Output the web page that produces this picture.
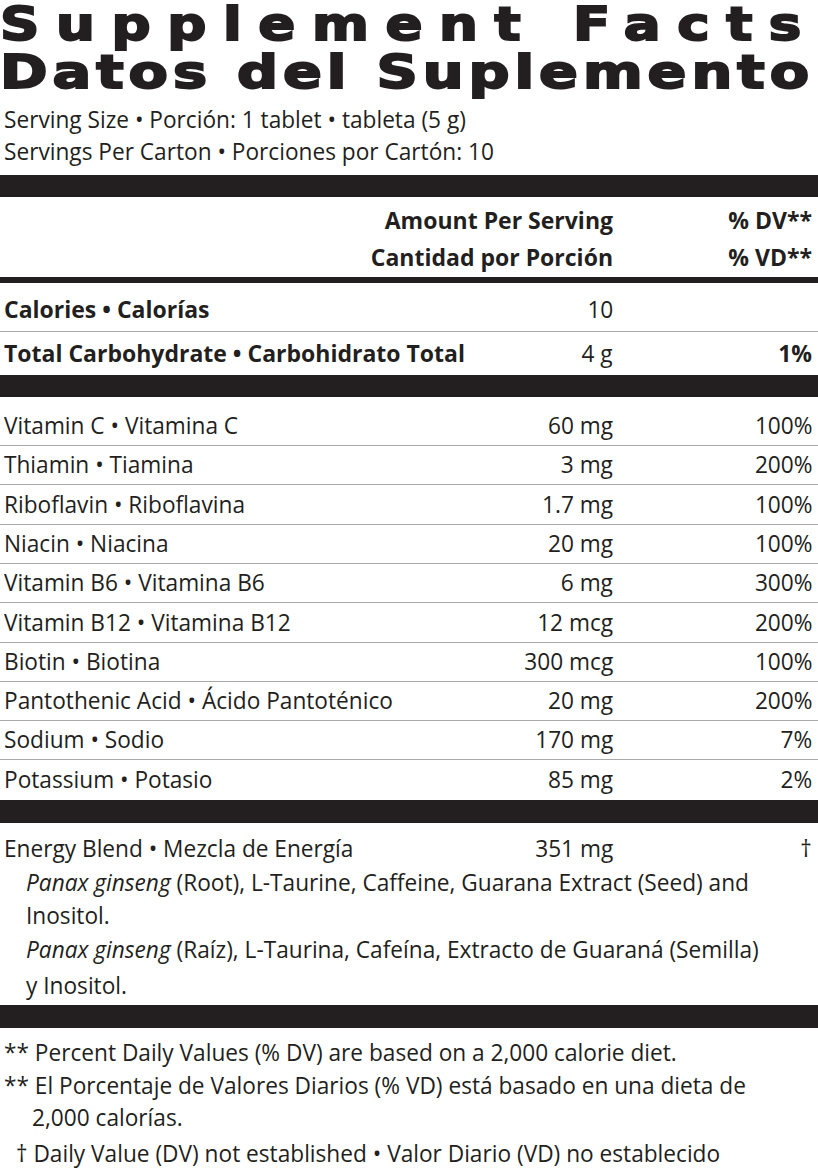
<!DOCTYPE html>
<html><head><meta charset="utf-8">
<script src="https://cdn.jsdelivr.net/npm/chart.js"></script>
<style>
body{margin:0;background:#fff;width:818px;height:1173px;overflow:hidden;font-family:"Open Sans",sans-serif;color:#231f20}
.t{position:absolute;white-space:nowrap;font-size:23px;line-height:30px;transform:scaleX(0.985);transform-origin:left center}
.t.b{transform:scaleX(1)}
.r{transform-origin:right center}
.bar{position:absolute;left:0;width:818px;background:#231f20}
.ln{position:absolute;left:0;width:818px;height:1px;background:#aaa}
.h{position:absolute;left:0;font-family:"DejaVu Sans";font-weight:bold;font-size:46px;line-height:48px;white-space:nowrap;-webkit-text-stroke:2px #231f20;transform-origin:left top;display:inline-block}
</style></head><body>
<div id="root"></div>
<script>
const nutrients=["Vitamin C • Vitamina C","Thiamin • Tiamina","Riboflavin • Riboflavina","Niacin • Niacina","Vitamin B6 • Vitamina B6","Vitamin B12 • Vitamina B12","Biotin • Biotina","Pantothenic Acid • Ácido Pantoténico","Sodium • Sodio","Potassium • Potasio"];
const amounts=["60 mg","3 mg","1.7 mg","20 mg","6 mg","12 mcg","300 mcg","20 mg","170 mg","85 mg"];
const dvs=["100%","200%","100%","100%","300%","200%","100%","200%","7%","2%"];
const root=document.getElementById('root');
function txt(s,x,y,o={}){const d=document.createElement('div');d.className='t'+(o.right?' r':'')+(o.bold?' b':'');d.textContent=s;d.style.top=(y-15)+'px';
 if(o.right){d.style.right=(818-x)+'px';}else d.style.left=x+'px';
 if(o.bold)d.style.fontWeight='bold'; if(o.html)d.innerHTML=s; root.appendChild(d);}
function bar(y,h){const d=document.createElement('div');d.className='bar';d.style.top=y+'px';d.style.height=h+'px';root.appendChild(d);}
function ln(y){const d=document.createElement('div');d.className='ln';d.style.top=y+'px';root.appendChild(d);}
function head(s,y,ls,w){const d=document.createElement('div');d.className='h';d.textContent=s;d.style.top=y+'px';d.style.letterSpacing=ls+'px';root.appendChild(d);
 const k=w/d.getBoundingClientRect().width;d.style.transform='scaleX('+k+')';}
head("Supplement Facts",0,14,818); head("Datos del Suplemento",48,4,814);
txt("Serving Size • Porción: 1 tablet • tableta (5 g)",4,119);
txt("Servings Per Carton • Porciones por Cartón: 10",4,151);
bar(175,22);
txt("Amount Per Serving",613,220,{right:1,bold:1});txt("% DV**",812,220,{right:1,bold:1});
txt("Cantidad por Porción",613,257,{right:1,bold:1});txt("% VD**",812,257,{right:1,bold:1});
bar(277,6);
txt("Calories • Calorías",4,309,{bold:1});txt("10",613,309,{right:1});
ln(331);
txt("Total Carbohydrate • Carbohidrato Total",4,353,{bold:1});txt("4 g",613,353,{right:1});txt("1%",812,353,{right:1,bold:1});
bar(375,22);
nutrients.forEach((n,i)=>{const y=425+i*39.3;txt(n,4,y);txt(amounts[i],613,y,{right:1});txt(dvs[i],812,y,{right:1});if(i<nutrients.length-1)ln(y+20);});
bar(800,23);
txt("Energy Blend • Mezcla de Energía",4,848);txt("351 mg",613,848,{right:1});txt("†",812,848,{right:1});
txt("<i>Panax ginseng</i> (Root), L-Taurine, Caffeine, Guarana Extract (Seed) and",26,882,{html:1});
txt("Inositol.",26,915);
txt("<i>Panax ginseng</i> (Raíz), L-Taurina, Cafeína, Extracto de Guaraná (Semilla)",26,949,{html:1});
txt("y Inositol.",26,985);
bar(1005,23);
txt("** Percent Daily Values (% DV) are based on a 2,000 calorie diet.",4,1052);
txt("** El Porcentaje de Valores Diarios (% VD) está basado en una dieta de",4,1085);
txt("2,000 calorías.",32,1117);
txt("† Daily Value (DV) not established • Valor Diario (VD) no establecido",16,1153);
</script></body></html>
